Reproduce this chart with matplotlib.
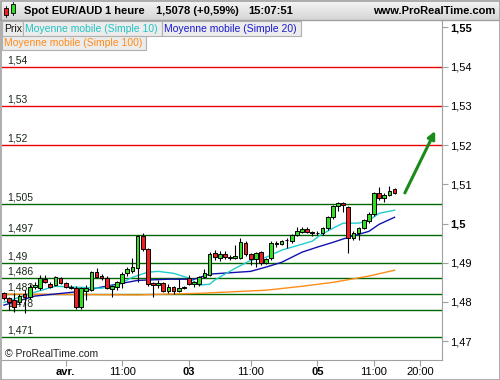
import numpy as np
import matplotlib.pyplot as plt
from matplotlib.patches import Rectangle
from matplotlib.transforms import blended_transform_factory

plt.rcParams['font.family'] = ['Liberation Sans', 'DejaVu Sans']

# hourly candles EUR/AUD, bar index 0 .. 76 (last bar = 15:00)
opens = [1.4822, 1.4810, 1.4804, 1.4800, 1.4820, 1.4812, 1.4838, 1.4835, 1.4858, 1.4845,
         1.4843, 1.4861, 1.4848, 1.4838, 1.4835, 1.4787, 1.4827, 1.4830, 1.4876, 1.4866,
         1.4861, 1.4833, 1.4838, 1.4848, 1.4873, 1.4880, 1.4886, 1.4968, 1.4934, 1.4848,
         1.4844, 1.4848, 1.4828, 1.4838, 1.4828, 1.4838, 1.4862, 1.4845, 1.4845, 1.4863,
         1.4868, 1.4924, 1.4912, 1.4922, 1.4914, 1.4912, 1.4913, 1.4950, 1.4922, 1.4909,
         1.4927, 1.4899, 1.4911, 1.4950, 1.4947, 1.4957, 1.4955, 1.4970, 1.4978, 1.4985,
         1.4978, 1.4976, 1.4975, 1.4988, 1.5016, 1.5044, 1.5052, 1.5041, 1.4962, 1.4975,
         1.4988, 1.5006, 1.5024, 1.5077, 1.5064, 1.5074, 1.5087]
highs = [1.4825, 1.4812, 1.4822, 1.4820, 1.4830, 1.4845, 1.4850, 1.4868, 1.4868, 1.4850,
         1.4866, 1.4864, 1.4852, 1.4842, 1.4840, 1.4838, 1.4842, 1.4880, 1.4886, 1.4872,
         1.4865, 1.4843, 1.4853, 1.4876, 1.4890, 1.4911, 1.4970, 1.4975, 1.4938, 1.4850,
         1.4855, 1.4850, 1.4845, 1.4840, 1.4858, 1.4840, 1.4868, 1.4853, 1.4866, 1.4885,
         1.4928, 1.4932, 1.4930, 1.4930, 1.4920, 1.4945, 1.4962, 1.4955, 1.4925, 1.4928,
         1.4930, 1.4912, 1.4955, 1.4955, 1.4958, 1.4962, 1.4973, 1.4990, 1.4990, 1.4990,
         1.4982, 1.4980, 1.4992, 1.5018, 1.5046, 1.5056, 1.5054, 1.5045, 1.4980, 1.4992,
         1.5012, 1.5030, 1.5080, 1.5092, 1.5077, 1.5095, 1.5090]
lows = [1.4805, 1.4779, 1.4774, 1.4795, 1.4771, 1.4808, 1.4833, 1.4830, 1.4848, 1.4835,
        1.4840, 1.4845, 1.4835, 1.4832, 1.4782, 1.4782, 1.4804, 1.4828, 1.4860, 1.4855,
        1.4832, 1.4812, 1.4830, 1.4835, 1.4866, 1.4875, 1.4850, 1.4930, 1.4840, 1.4812,
        1.4835, 1.4825, 1.4822, 1.4820, 1.4825, 1.4832, 1.4843, 1.4838, 1.4840, 1.4860,
        1.4865, 1.4908, 1.4905, 1.4910, 1.4907, 1.4910, 1.4910, 1.4918, 1.4895, 1.4890,
        1.4895, 1.4897, 1.4908, 1.4940, 1.4945, 1.4937, 1.4950, 1.4968, 1.4975, 1.4975,
        1.4968, 1.4970, 1.4972, 1.4984, 1.5012, 1.5033, 1.5030, 1.4924, 1.4958, 1.4957,
        1.4985, 1.5002, 1.5020, 1.5060, 1.5054, 1.5070, 1.5075]
closes = [1.4810, 1.4800, 1.4787, 1.4815, 1.4812, 1.4838, 1.4843, 1.4861, 1.4852, 1.4838,
          1.4863, 1.4848, 1.4838, 1.4836, 1.4787, 1.4835, 1.4835, 1.4876, 1.4863, 1.4861,
          1.4835, 1.4840, 1.4850, 1.4871, 1.4884, 1.4889, 1.4968, 1.4934, 1.4845, 1.4844,
          1.4849, 1.4828, 1.4838, 1.4828, 1.4836, 1.4835, 1.4845, 1.4850, 1.4863, 1.4873,
          1.4922, 1.4914, 1.4922, 1.4914, 1.4912, 1.4916, 1.4952, 1.4922, 1.4909, 1.4924,
          1.4899, 1.4909, 1.4950, 1.4949, 1.4955, 1.4958, 1.4970, 1.4980, 1.4985, 1.4978,
          1.4976, 1.4977, 1.4988, 1.5016, 1.5044, 1.5052, 1.5046, 1.4962, 1.4975, 1.4988,
          1.5008, 1.5024, 1.5077, 1.5064, 1.5074, 1.5084, 1.5078]

# moving averages (bar index, price)
ma10_x = [0, 6, 10, 19, 22, 25, 28, 30, 33, 36, 38, 40, 41, 45, 48, 51, 54, 60, 61.5, 64, 66, 69, 71, 73, 76]
ma10_y = [1.4799, 1.4825, 1.4840, 1.4835, 1.4843, 1.4863, 1.4876, 1.4878, 1.4873, 1.4861,
          1.4843, 1.4845, 1.4856, 1.4886, 1.4906, 1.4914, 1.4932, 1.4955, 1.4970, 1.4988,
          1.5001, 1.5001, 1.5008, 1.5026, 1.5034]
ma20_x = [0, 6, 15, 19, 26, 32, 37, 40, 48, 51, 54, 58, 61, 64, 67, 71, 73, 76]
ma20_y = [1.4792, 1.4815, 1.4827, 1.4838, 1.4855, 1.4858, 1.4858, 1.4871, 1.4878, 1.4889,
          1.4901, 1.4927, 1.4940, 1.4952, 1.4965, 1.4980, 1.4998, 1.5016]
ma100_x = [0, 26, 38, 51, 58, 64, 71, 76]
ma100_y = [1.4820, 1.4818, 1.4822, 1.4830, 1.4840, 1.4850, 1.4866, 1.4881]

red_levels = [1.54, 1.53, 1.52]
green_levels = [1.505, 1.497, 1.49, 1.486, 1.482, 1.478, 1.471]
level_labels_red = ['1,54', '1,53', '1,52']
level_labels_green = ['1,505', '1,497', '1,49', '1,486', '1,482', '1,478', '1,471']

y_ticks = [1.47, 1.48, 1.49, 1.50, 1.51, 1.52, 1.53, 1.54, 1.55]
y_tick_labels = ['1,47', '1,48', '1,49', '1,5', '1,51', '1,52', '1,53', '1,54', '1,55']
x_ticks = [12, 23, 36, 48, 61, 72, 81]
x_tick_labels = ['avr.', '11:00', '03', '11:00', '05', '11:00', '20:00']
x_bold = ['avr.', '03', '05']

# arrow (from, to) in bar index / price
arrow_from = (78.0, 1.5078)
arrow_to = (83.9, 1.5236)

GREEN = '#33dd22'
RED = '#ee2020'
LEVEL_GREEN = '#006600'

fig = plt.figure(figsize=(5, 3.8), dpi=100)
fig.patch.set_facecolor('white')
ax = fig.add_axes([2 / 500, 20 / 380, 440 / 500, 340 / 380])
ax.set_xlim(-0.39, 85.23)
ax.set_ylim(1.4652, 1.5519)

# support / resistance levels
trans = blended_transform_factory(ax.transAxes, ax.transData)
for lv, lb in zip(red_levels, level_labels_red):
    ax.axhline(lv, color='#ee0000', lw=1, zorder=1)
    ax.text(0.011, lv + 0.0004, lb, transform=trans, fontsize=7.5, color='#1a2a1a', va='bottom')
for lv, lb in zip(green_levels, level_labels_green):
    ax.axhline(lv, color=LEVEL_GREEN, lw=1, zorder=1)
    ax.text(0.011, lv + 0.0004, lb, transform=trans, fontsize=7.5, color='#1a2a1a', va='bottom')

# moving averages
ax.plot(ma100_x, ma100_y, color='#ff8c1a', lw=1, zorder=2)
ax.plot(ma20_x, ma20_y, color='#1010b0', lw=1, zorder=2)
ax.plot(ma10_x, ma10_y, color='#22cccc', lw=1, zorder=2)

# candles
o = np.array(opens)
c = np.array(closes)
x = np.arange(len(o))
ax.vlines(x, lows, highs, color='black', lw=0.8, zorder=3)
bottom = np.minimum(o, c)
height = np.maximum(np.abs(c - o), 0.00008)
cols = [GREEN if cc >= oo else RED for oo, cc in zip(o, c)]
ax.bar(x, height, bottom=bottom, width=0.72, color=cols, edgecolor='black', lw=0.7, zorder=4)

ax.annotate('', xy=arrow_to, xytext=arrow_from,
            arrowprops=dict(arrowstyle='-|>', color='#1a8a1a', lw=2.2, mutation_scale=11, shrinkA=0, shrinkB=0))

# axes styling
for s in ['left', 'top']:
    ax.spines[s].set_visible(False)
for s in ['right', 'bottom']:
    ax.spines[s].set_color('#a0a0a0')
ax.yaxis.tick_right()
ax.set_yticks(y_ticks)
ax.set_yticklabels(y_tick_labels)
for t in ax.get_yticklabels():
    if t.get_text() in ('1,55', '1,5'):
        t.set_fontweight('bold')
ax.tick_params(axis='y', length=4, color='#a0a0a0', labelsize=8, pad=2)
ax.set_xticks(x_ticks)
ax.set_xticklabels(x_tick_labels)
for t in ax.get_xticklabels():
    if t.get_text() in x_bold:
        t.set_fontweight('bold')
ax.tick_params(axis='x', length=4, color='#a0a0a0', labelsize=8, pad=1)

# overlay in pixel coordinates: header, legend boxes, border
ov = fig.add_axes([0, 0, 1, 1], zorder=10)
ov.set_xlim(0, 500)
ov.set_ylim(380, 0)
ov.axis('off')
ov.patch.set_alpha(0)

grad = np.linspace(0, 1, 20).reshape(-1, 1)
ov.imshow(grad, extent=(0, 500, 20, 0), cmap=plt.matplotlib.colors.LinearSegmentedColormap.from_list(
    'hd', ['#f6f6f6', '#d6d6d6']), aspect='auto', zorder=1)
ov.plot([0, 500], [20, 20], color='#a0a0a0', lw=1, zorder=2)
# icon
ov.add_patch(Rectangle((4, 8), 4, 7, fc=RED, ec='black', lw=0.6, zorder=3))
ov.plot([6, 6], [6, 17], color='black', lw=0.6, zorder=2)
ov.add_patch(Rectangle((11, 4), 4, 9, fc=GREEN, ec='black', lw=0.6, zorder=3))
ov.plot([13, 13], [2, 15], color='black', lw=0.6, zorder=2)

hfs = 8
ov.text(24, 10.5, 'Spot EUR/AUD', fontsize=hfs, fontweight='bold', va='center', zorder=3)
ov.text(105, 10.5, '1 heure', fontsize=hfs, fontweight='bold', va='center', zorder=3)
ov.text(156, 10.5, '1,5078 (+0,59%)', fontsize=hfs, fontweight='bold', va='center', zorder=3)
ov.text(248, 10.5, '15:07:51', fontsize=hfs, fontweight='bold', va='center', zorder=3)
ov.text(495, 10.5, 'www.ProRealTime.com', fontsize=hfs, fontweight='bold', va='center', ha='right', zorder=3)

legend = [((2, 21, 21, 15), 'Prix', '#111111'),
          ((23, 21, 139, 15), 'Moyenne mobile (Simple 10)', '#22c4c4'),
          ((162, 21, 139, 15), 'Moyenne mobile (Simple 20)', '#1a1ad0'),
          ((2, 36, 144, 14), 'Moyenne mobile (Simple 100)', '#ff8c1a')]
for (lx, ly, lw_, lh), txt, col in legend:
    ov.add_patch(Rectangle((lx, ly), lw_, lh, fc='#ececec', ec='#b0b0b0', lw=0.8, zorder=3))
    ov.text(lx + 2, ly + lh / 2 + 0.5, txt, fontsize=7.5, color=col, va='center', zorder=4)

ov.text(5, 354, '\u00a9 ProRealTime.com', fontsize=7.5, color='#222222', va='center', zorder=4)
ov.add_patch(Rectangle((0.5, 0.5), 499, 379, fill=False, ec='#a0a0a0', lw=1.2, zorder=5))

fig.savefig('out.png', dpi=100)
